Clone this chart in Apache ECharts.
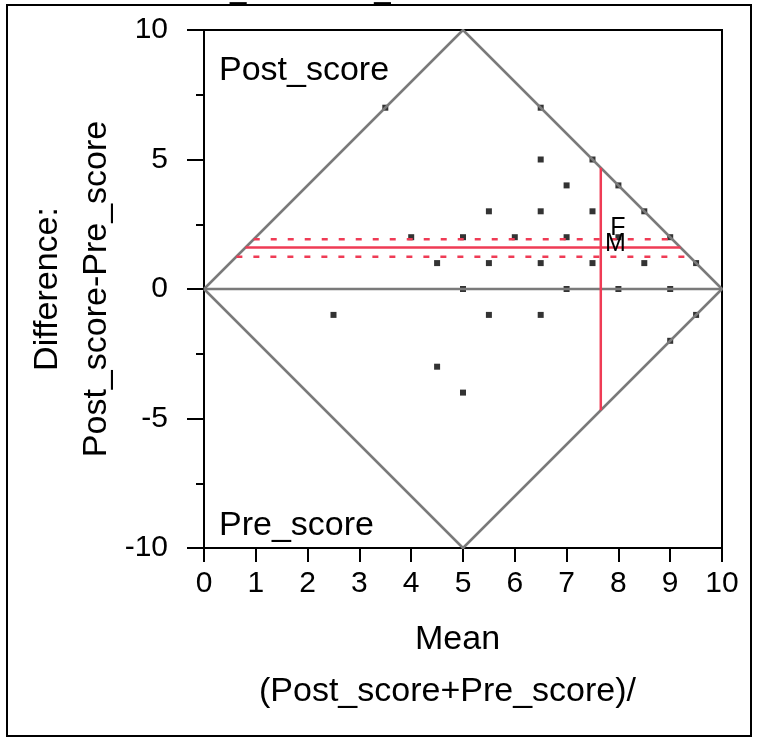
<!DOCTYPE html>
<html><head><meta charset="utf-8">
<script src="https://cdn.jsdelivr.net/npm/echarts@6/dist/echarts.min.js"></script>
<style>html,body{margin:0;padding:0;background:#fff}#c{width:760px;height:739px}</style>
</head><body><div id="c"></div>
<script>
// Data
const pointMeans = [2.5,3.5,4,4.5,4.5,5,5,5,5.5,5.5,5.5,6,6.5,6.5,6.5,6.5,6.5,7,7,7,7.5,7.5,7.5,8,8,8,8.5,8.5,9,9,9,9.5,9.5];
const pointDiffs = [-1,7,2,1,-3,2,0,-4,3,1,-1,2,7,5,3,1,-1,4,2,0,5,3,1,4,2,0,3,1,2,0,-2,1,-1];
const diamondX = [0,5,10,5,0];
const diamondY = [0,10,0,-10,0];
const meanDiff = 1.6;
const diffUpper = 1.92;
const diffLower = 1.25;
const meanMean = 7.66;
const groupNames = ['F','M'];
const groupMeans = [7.99,7.94];
const groupDiffs = [2.36,1.74];
const xTicks = [0,1,2,3,4,5,6,7,8,9,10];
const yTicks = [-10,-5,0,5,10];

const FONT = 'Liberation Sans, Arial, Helvetica, sans-serif';
const RED = '#ef3b55';
const GRAY = '#7a7a7a';

const chart = echarts.init(document.getElementById('c'), null, {renderer:'canvas'});
const hLine = (d) => [[d/2, d],[10 - d/2, d]];

const option = {
  animation: false,
  backgroundColor: '#fff',
  grid: {left:204, right:38, top:30, bottom:191, show:true, borderColor:'#000', borderWidth:2},
  xAxis: {
    type:'value', min:xTicks[0], max:xTicks[xTicks.length-1], interval:1,
    axisLine:{show:true, onZero:false, lineStyle:{color:'#000', width:2}},
    axisTick:{show:true, length:14, lineStyle:{color:'#000', width:2}},
    axisLabel:{color:'#000', fontSize:30, fontFamily:FONT, margin:21},
    splitLine:{show:false}
  },
  yAxis: {
    type:'value', min:yTicks[0], max:yTicks[yTicks.length-1], interval:5,
    axisLine:{show:true, onZero:false, lineStyle:{color:'#000', width:2}},
    axisTick:{show:true, length:17, lineStyle:{color:'#000', width:2}},
    minorTick:{show:true, splitNumber:2, length:8, lineStyle:{color:'#000', width:2}},
    axisLabel:{color:'#000', fontSize:30, fontFamily:FONT, margin:36},
    splitLine:{show:false}, minorSplitLine:{show:false}
  },
  series: [
    {type:'scatter', z:1, symbol:'rect', symbolSize:[6,6], itemStyle:{color:'#000'},
     data: pointMeans.map((m,i)=>[m, pointDiffs[i]])},
    {type:'line', z:3, symbol:'none', lineStyle:{color:GRAY, width:2.5},
     data: diamondX.map((x,i)=>[x, diamondY[i]])},
    {type:'line', z:3, symbol:'none', lineStyle:{color:GRAY, width:2.5},
     data: [[0,0],[10,0]]},
    {type:'line', z:4, symbol:'none', lineStyle:{color:RED, width:2.5}, data: hLine(meanDiff)},
    {type:'line', z:4, symbol:'none', lineStyle:{color:RED, width:2.5, type:[6,11]}, data: hLine(diffUpper)},
    {type:'line', z:4, symbol:'none', lineStyle:{color:RED, width:2.5, type:[6,11]}, data: hLine(diffLower)},
    {type:'line', z:4, symbol:'none', lineStyle:{color:RED, width:2.5},
     data: [[meanMean, -2*(10-meanMean)],[meanMean, 2*(10-meanMean)]]},
    {type:'custom', z:6,
     data: groupNames.map((n,i)=>[groupMeans[i], groupDiffs[i], n]),
     renderItem: (params, api) => {
       const p = api.coord([api.value(0), api.value(1)]);
       return {type:'text', x:p[0], y:p[1], style:{text:groupNames[params.dataIndex], font:'25px '+FONT, fill:'#000', align:'center', verticalAlign:'middle'}};
     }}
  ],
  graphic: [
    {type:'rect', shape:{x:7, y:5, width:744, height:731}, style:{fill:null, stroke:'#000', lineWidth:2}, silent:true},
    {type:'text', left:171, top:-25, style:{text:'Post_score-Pre_score', font:'29.5px '+FONT, fill:'#000'}},
    {type:'text', left:219, top:54, style:{text:'Post_score', font:'34px '+FONT, fill:'#000'}},
    {type:'text', left:219, top:509, style:{text:'Pre_score', font:'34px '+FONT, fill:'#000'}},
    {type:'text', left:415, top:623, style:{text:'Mean', font:'34px '+FONT, fill:'#000'}},
    {type:'text', left:259, top:675, style:{text:'(Post_score+Pre_score)/', font:'34px '+FONT, fill:'#000'}},
    {type:'text', x:48, y:289, rotation:Math.PI/2, style:{text:'Difference:', font:'34px '+FONT, fill:'#000', textAlign:'center', textVerticalAlign:'middle'}},
    {type:'text', x:97, y:289, rotation:Math.PI/2, style:{text:'Post_score-Pre_score', font:'34px '+FONT, fill:'#000', textAlign:'center', textVerticalAlign:'middle'}}
  ]
};
chart.setOption(option);
</script></body></html>
